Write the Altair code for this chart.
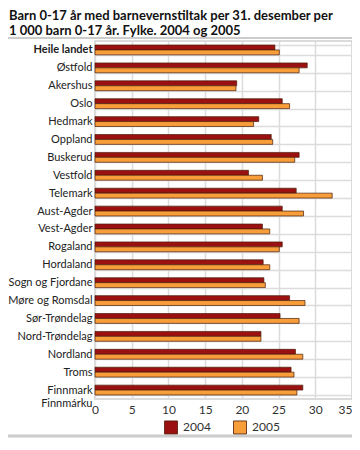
import altair as alt
import pandas as pd

regions = ["Heile landet", "Østfold", "Akershus", "Oslo", "Hedmark", "Oppland",
           "Buskerud", "Vestfold", "Telemark", "Aust-Agder", "Vest-Agder",
           "Rogaland", "Hordaland", "Sogn og Fjordane", "Møre og Romsdal",
           "Sør-Trøndelag", "Nord-Trøndelag", "Nordland", "Troms",
           "Finnmark|Finnmárku"]
v2004 = [24.5, 28.9, 19.3, 25.5, 22.3, 24.0, 27.8, 20.9, 27.4, 25.5, 22.8,
         25.5, 22.9, 23.0, 26.5, 25.2, 22.6, 27.3, 26.7, 28.3]
v2005 = [25.1, 27.8, 19.2, 26.5, 21.6, 24.2, 27.2, 22.8, 32.3, 28.4, 23.8,
         25.1, 23.8, 23.2, 28.6, 27.8, 22.6, 28.3, 27.1, 27.5]
years = ["2004", "2005"]
colors = ["#9b1111", "#f79d3a"]
title_lines = ["Barn 0-17 år med barnevernstiltak per 31. desember per",
               "1 000 barn 0-17 år. Fylke. 2004 og 2005"]

rows = []
for r, a, b in zip(regions, v2004, v2005):
    rows.append({"region": r, "year": years[0], "value": a})
    rows.append({"region": r, "year": years[1], "value": b})
df = pd.DataFrame(rows)

FONT = "Lato"
W, H = 257, 358

bars = alt.Chart(df).mark_bar(stroke="#4a1c08", strokeWidth=0.7).encode(
    x=alt.X("value:Q", scale=alt.Scale(domain=[0, 35], nice=False),
            axis=alt.Axis(values=[0, 5, 10, 15, 20, 25, 30, 35], title=None,
                          grid=True, gridColor="#dcdcdc", gridWidth=1.5,
                          ticks=False, domain=False, labelFontSize=12,
                          labelColor="#333", labelFont=FONT, labelPadding=5,
                          labelAlign={"condition": {"test": "datum.value == 35", "value": "right"}, "value": "center"})),
    y=alt.Y("region:N", sort=regions,
            scale=alt.Scale(paddingInner=0.45, paddingOuter=0.225),
            axis=alt.Axis(title=None, ticks=False, domain=False, grid=True,
                          tickBand="extent", gridColor="#dcdcdc", gridWidth=1.5,
                          labelFontSize=11, labelColor="#222", labelFont=FONT,
                          labelPadding=3, labelLineHeight=13,
                          labelExpr="split(datum.label, '|')",
                          labelFontWeight={"condition": {"test": "datum.value == 'Heile landet'", "value": "bold"}, "value": "normal"})),
    yOffset=alt.YOffset("year:N", sort=years,
                        scale=alt.Scale(paddingInner=0, paddingOuter=0)),
    color=alt.Color("year:N", sort=years,
                    scale=alt.Scale(domain=years, range=colors),
                    legend=alt.Legend(title=None, orient="none", direction="horizontal",
                                      legendX=69, legendY=379, symbolType="square",
                                      symbolSize=169, symbolStrokeColor="#4a1c08",
                                      symbolStrokeWidth=0.8, symbolOpacity=1,
                                      labelFontSize=12, labelColor="#333",
                                      labelFont=FONT, columnPadding=20,
                                      labelOffset=5, padding=0)),
)

one = alt.Data(values=[{"k": 1}])
title = alt.Chart(one).mark_text(
    text=title_lines, align="left", baseline="top", font=FONT, fontSize=13,
    fontWeight="bold", lineHeight=15, color="#111"
).encode(x=alt.value(-86), y=alt.value(-31))

sep = alt.Chart(one).mark_rule(color="#999999", strokeWidth=1).encode(
    x=alt.value(-87), x2=alt.value(257), y=alt.value(-3))
bottom = alt.Chart(one).mark_rule(color="#cccccc", strokeWidth=3).encode(
    x=alt.value(-87), x2=alt.value(257), y=alt.value(395))

chart = alt.layer(bars, title, sep, bottom).properties(
    width=W, height=H,
    autosize=alt.AutoSizeParams(type="none"),
    padding={"left": 87, "top": 33, "right": 0, "bottom": 39},
).configure_view(stroke="#d0d0d0", strokeWidth=1.5)

chart.save("out.html", embed_options={"renderer": "svg", "actions": False})
